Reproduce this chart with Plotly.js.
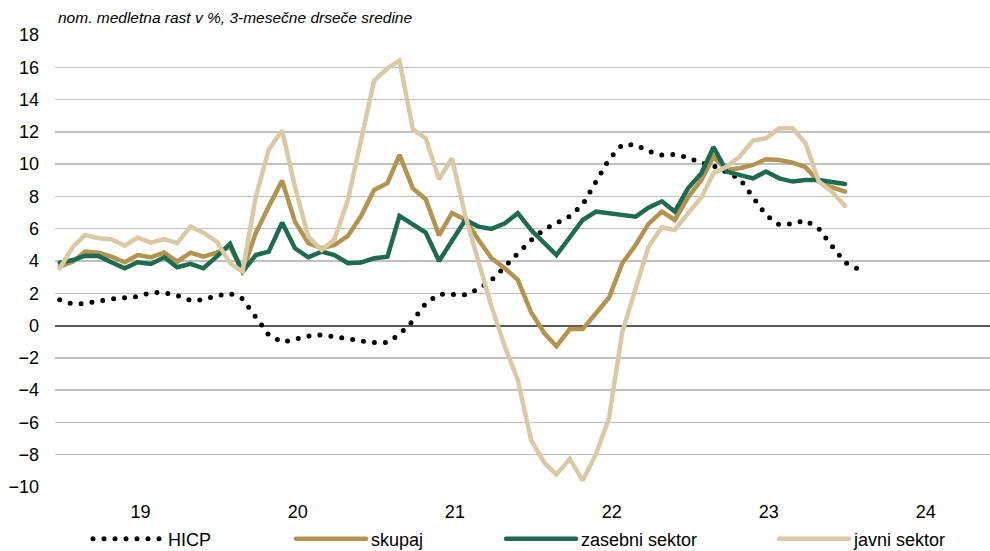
<!DOCTYPE html>
<html>
<head>
<meta charset="utf-8">
<script src="https://cdn.plot.ly/plotly-3.0.1.min.js"></script>
<style>
  body { margin: 0; }
  #plot { width: 990px; height: 551px; }
  .js-line { stroke-linecap: round; }
</style>
</head>
<body>
<div id="plot"></div>
<script>
// monthly values, Jan 2019 onwards
var hicp = [1.6, 1.33, 1.37, 1.53, 1.65, 1.72, 1.8, 2.05, 2.04, 1.87, 1.57, 1.6,
  1.85, 1.98, 1.66, 0.52, -0.58, -1.03, -0.85, -0.65, -0.58, -0.66, -0.8, -0.95,
  -1.05, -1.05, -0.55, 0.3, 1.38, 1.95, 1.96, 1.9, 2.28, 2.82, 3.65, 4.5,
  5.3, 5.96, 6.35, 6.77, 7.5, 8.88, 10.3, 11.2, 11.2, 10.8, 10.57, 10.6,
  10.4, 10.08, 9.9, 9.5, 9.1, 7.95, 6.85, 6.25, 6.3, 6.52, 6.0, 4.95,
  3.9, 3.5];

var skupaj = [3.65, 3.96, 4.58, 4.52, 4.27, 3.92, 4.37, 4.23, 4.52, 3.96, 4.52, 4.27,
  4.52, 4.89, 3.34, 5.75, 7.37, 8.98, 6.44, 5.1, 4.79, 4.99, 5.55, 6.75,
  8.4, 8.82, 10.57, 8.5, 7.83, 5.58, 6.98, 6.56, 5.3, 4.17, 3.55, 2.83,
  0.82, -0.48, -1.28, -0.22, -0.22, 0.74, 1.72, 3.86, 4.99, 6.3, 7.06, 6.54,
  7.95, 9.02, 10.47, 9.64, 9.75, 9.95, 10.3, 10.26, 10.09, 9.81, 8.92, 8.57,
  8.3];

var zasebni = [3.9, 4.06, 4.33, 4.31, 3.92, 3.55, 3.92, 3.82, 4.23, 3.61, 3.82, 3.55,
  4.27, 5.06, 3.34, 4.37, 4.58, 6.38, 4.79, 4.23, 4.58, 4.37, 3.86, 3.9,
  4.17, 4.27, 6.79, 6.28, 5.76, 4.0, 5.25, 6.54, 6.13, 5.99, 6.34, 6.96,
  5.92, 5.1, 4.37, 5.47, 6.54, 7.06, 6.96, 6.85, 6.75, 7.3, 7.7, 7.06,
  8.5, 9.44, 11.05, 9.54, 9.33, 9.12, 9.54, 9.12, 8.92, 9.02, 9.02, 8.92,
  8.77];

var javni = [3.55, 4.89, 5.61, 5.41, 5.35, 4.95, 5.45, 5.14, 5.35, 5.1, 6.13, 5.76,
  5.2, 3.86, 3.34, 8.0, 10.9, 12.08, 8.6, 5.51, 4.68, 5.35, 7.78, 11.3,
  15.17, 15.94, 16.41, 12.16, 11.6, 9.06, 10.37, 6.8, 3.86, 1.17, -1.31, -3.37,
  -7.09, -8.5, -9.23, -8.25, -9.6, -7.95, -5.75, -0.4, 2.3, 4.89, 6.09, 5.92,
  6.96, 7.95, 9.44, 9.85, 10.47, 11.46, 11.6, 12.22, 12.22, 11.3, 8.92, 8.3,
  7.41];

function months(n) {
  var out = [];
  for (var i = 0; i < n; i++) {
    var y = 2019 + Math.floor(i / 12);
    var m = (i % 12) + 1;
    out.push(y + '-' + (m < 10 ? '0' + m : m) + '-12');
  }
  return out;
}

var font = 'Liberation Sans Narrow, Arial Narrow, Liberation Sans, Arial, sans-serif';

var trace1 = {
  x: months(hicp.length), y: hicp, name: 'HICP', type: 'scatter', mode: 'lines',
  line: {color: '#000000', width: 5, dash: '0px,11px'},
  legend: 'legend'
};
var trace2 = {
  x: months(skupaj.length), y: skupaj, name: 'skupaj', type: 'scatter', mode: 'lines',
  line: {color: '#B29450', width: 4.5},
  legend: 'legend2'
};
var trace3 = {
  x: months(zasebni.length), y: zasebni, name: 'zasebni sektor', type: 'scatter', mode: 'lines',
  line: {color: '#1F6B50', width: 4.5},
  legend: 'legend3'
};
var trace4 = {
  x: months(javni.length), y: javni, name: 'javni sektor', type: 'scatter', mode: 'lines',
  line: {color: '#D9CAA5', width: 4.5},
  legend: 'legend4'
};

var data = [trace1, trace2, trace3, trace4];

function leg(px) {
  return {
    orientation: 'h', xref: 'container', yref: 'container',
    x: px / 990, y: 1 - 539 / 551, xanchor: 'left', yanchor: 'middle',
    itemwidth: 70, bgcolor: 'rgba(0,0,0,0)',
    font: {family: font, size: 18, color: '#000'}
  };
}

var xr = ['2019-01-01', '2024-12-14'];

var layout = {
  width: 990, height: 551,
  margin: {l: 55, r: 0, t: 35, b: 64},
  paper_bgcolor: '#ffffff', plot_bgcolor: '#ffffff',
  font: {family: font, size: 18, color: '#000'},
  title: {
    text: 'nom. medletna rast v %, 3-mesečne drseče sredine',
    x: 58 / 990, xref: 'container', xanchor: 'left',
    y: 1 - 18 / 551, yref: 'container', yanchor: 'middle',
    font: {family: font, size: 15.5, style: 'italic', color: '#000'}
  },
  showlegend: true,
  legend: leg(88),
  legend2: leg(291),
  legend3: leg(501),
  legend4: leg(774),
  xaxis: {
    type: 'date', range: xr,
    tick0: '2019-01-01', dtick: 'M12', tickformat: '%y', ticklabelmode: 'period',
    ticks: '', showgrid: false, showline: false, zeroline: false,
    ticklabelstandoff: 12, ticklabelshift: 7,
    tickfont: {family: font, size: 18, color: '#000'}
  },
  xaxis2: {
    type: 'date', range: xr, overlaying: 'x', anchor: 'free', position: 10 / 28,
    tick0: '2019-01-01', dtick: 'M12',
    ticks: 'outside', ticklen: 6, tickwidth: 1.5, tickcolor: '#595959',
    showticklabels: false, showgrid: false, showline: false, zeroline: false
  },
  yaxis: {
    range: [-10, 18], dtick: 2, tick0: 0,
    showgrid: true, gridcolor: '#C0C0C0', gridwidth: 1.5,
    zeroline: true, zerolinecolor: '#595959', zerolinewidth: 2,
    showline: false, ticks: '',
    ticklabelstandoff: 15,
    tickfont: {family: font, size: 18, color: '#000'}
  }
};

Plotly.newPlot('plot', data, layout, {staticPlot: true});
</script>
</body>
</html>
